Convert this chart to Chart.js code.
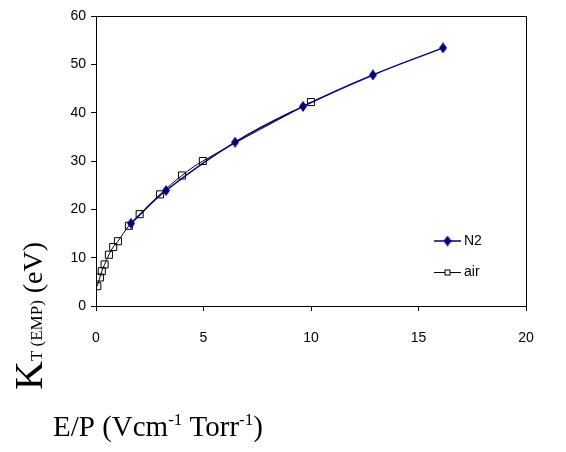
<!DOCTYPE html>
<html><head><meta charset="utf-8">
<script src="https://cdn.jsdelivr.net/npm/chart.js@4/dist/chart.umd.min.js"></script>
<style>html,body{margin:0;padding:0;background:#fff;}</style>
</head><body>
<canvas id="c" width="566" height="452"></canvas>
<script>
// ---- data ----
const n2X = [1.63, 3.26, 6.47, 9.63, 12.88, 16.14];
const n2Y = [17.1, 23.9, 33.9, 41.3, 47.8, 53.4];
const airX = [0.06, 0.18, 0.27, 0.40, 0.60, 0.80, 1.02, 1.53, 2.03, 2.98, 4.0, 4.97, 10.0];
const airY = [4.1, 5.9, 7.2, 8.6, 10.6, 12.2, 13.4, 16.6, 19.0, 23.1, 27.0, 30.0, 42.2];
const xTicks = [0, 5, 10, 15, 20];
const yTicks = [0, 10, 20, 30, 40, 50, 60];
const seriesNames = ['N2', 'air'];

const NAVY = '#000080';
const TICKFONT = "'Liberation Sans', Arial, sans-serif";
const SERIF = "'Liberation Serif', 'Times New Roman', serif";

function diamondCanvas(w, h, color) {
  const cv = document.createElement('canvas');
  cv.width = w; cv.height = h;
  const g = cv.getContext('2d');
  g.fillStyle = color;
  g.beginPath();
  g.moveTo(w / 2, 0); g.lineTo(w, h / 2); g.lineTo(w / 2, h); g.lineTo(0, h / 2);
  g.closePath(); g.fill();
  return cv;
}
const diamond = diamondCanvas(8, 11, NAVY);

const toPts = (xs, ys) => xs.map((x, i) => ({ x: x, y: ys[i] }));

const decor = {
  id: 'decor',
  afterDraw(chart) {
    const ctx = chart.ctx;
    const a = chart.chartArea;
    ctx.save();
    // frame
    ctx.strokeStyle = '#000';
    ctx.lineWidth = 1;
    ctx.beginPath();
    ctx.moveTo(Math.round(a.left) + 0.5, Math.round(a.top) + 0.5);
    ctx.lineTo(Math.round(a.right) + 0.5, Math.round(a.top) + 0.5);
    ctx.lineTo(Math.round(a.right) + 0.5, Math.round(a.bottom) + 0.5);
    ctx.stroke();

    // legend
    const lx0 = 434, lx1 = 461, tx = 464;
    const rows = [241, 272];
    ctx.font = "14px " + TICKFONT;
    ctx.textBaseline = 'middle';
    ctx.textAlign = 'left';
    ctx.fillStyle = '#000';
    // N2
    ctx.strokeStyle = NAVY; ctx.lineWidth = 1.5;
    ctx.beginPath(); ctx.moveTo(lx0, rows[0]); ctx.lineTo(lx1, rows[0]); ctx.stroke();
    ctx.drawImage(diamond, (lx0 + lx1) / 2 - 4, rows[0] - 5.5);
    ctx.fillText(seriesNames[0], tx, rows[0]);
    // air
    ctx.strokeStyle = '#000'; ctx.lineWidth = 1;
    ctx.beginPath(); ctx.moveTo(lx0, rows[1] + 0.5); ctx.lineTo(lx1, rows[1] + 0.5); ctx.stroke();
    ctx.fillStyle = '#fff';
    ctx.fillRect((lx0 + lx1) / 2 - 2.5, rows[1] - 2, 5, 5);
    ctx.strokeRect((lx0 + lx1) / 2 - 2.5, rows[1] - 2, 5, 5);
    ctx.fillStyle = '#000';
    ctx.fillText(seriesNames[1], tx, rows[1]);

    // x title
    ctx.textBaseline = 'alphabetic';
    let x = 53; const by = 436;
    const big = "29px " + SERIF, sup = "17px " + SERIF;
    const parts = [["E/P (Vcm", big, 0], ["-1", sup, -11], [" Torr", big, 0], ["-1", sup, -11], [")", big, 0]];
    for (const [t, f, dy] of parts) {
      ctx.font = f; ctx.fillText(t, x, by + dy); x += ctx.measureText(t).width;
    }

    // y title (rotated)
    ctx.translate(42, 390);
    ctx.rotate(-Math.PI / 2);
    let p = 0;
    const yparts = [["K", "40px " + SERIF, 0], ["T (EMP)", "17px " + SERIF, 0], [" (eV)", "28px " + SERIF, 0]];
    for (const [t, f, dy] of yparts) {
      ctx.font = f; ctx.fillText(t, p, dy); p += ctx.measureText(t).width;
    }
    ctx.restore();
  }
};

new Chart(document.getElementById('c'), {
  type: 'scatter',
  data: {
    datasets: [
      {
        label: seriesNames[0], data: toPts(n2X, n2Y), showLine: true,
        borderColor: NAVY, backgroundColor: NAVY, borderWidth: 1.5, tension: 0.4,
        pointStyle: diamond, pointRadius: 5
      },
      {
        label: seriesNames[1], data: toPts(airX, airY), showLine: true,
        borderColor: '#000', backgroundColor: 'rgba(0,0,0,0)', borderWidth: 1, tension: 0.4,
        pointStyle: 'rect', pointRadius: 5, pointBorderWidth: 1, pointBorderColor: '#000',
        pointBackgroundColor: 'rgba(0,0,0,0)'
      }
    ]
  },
  options: {
    responsive: false,
    animation: false,
    devicePixelRatio: 1,
    layout: { padding: { top: 16, right: 40, left: 0, bottom: 0 } },
    plugins: { legend: { display: false }, tooltip: { enabled: false } },
    scales: {
      x: {
        type: 'linear', min: 0, max: 20,
        afterBuildTicks: s => { s.ticks = xTicks.map(v => ({ value: v })); },
        afterFit: s => { s.height = 146; },
        ticks: { color: '#000', font: { family: TICKFONT, size: 14 }, padding: 19 },
        grid: { drawOnChartArea: false, drawTicks: true, tickLength: 5, tickColor: '#000' },
        border: { color: '#000', width: 1 }
      },
      y: {
        min: 0, max: 60,
        afterBuildTicks: s => { s.ticks = yTicks.map(v => ({ value: v })); },
        afterFit: s => { s.width = 96; },
        ticks: { color: '#000', font: { family: TICKFONT, size: 14 }, padding: 5 },
        grid: { drawOnChartArea: false, drawTicks: true, tickLength: 5, tickColor: '#000' },
        border: { color: '#000', width: 1 }
      }
    }
  },
  plugins: [decor]
});
</script>
</body></html>
